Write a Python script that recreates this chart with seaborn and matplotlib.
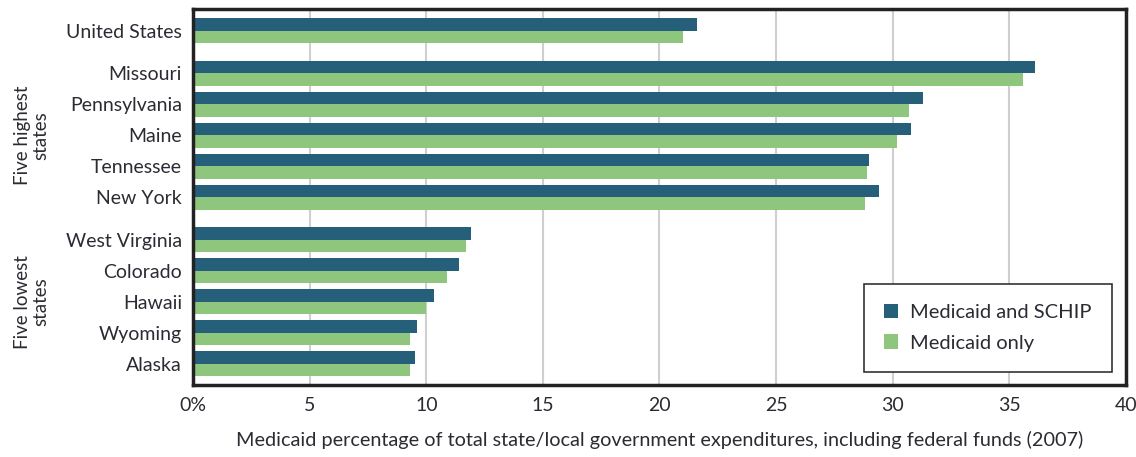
import numpy as np
import pandas as pd
import matplotlib
matplotlib.use("Agg")
import matplotlib.pyplot as plt
import matplotlib.transforms as mtransforms
import seaborn as sns

# Valores (porcentaje del gasto estatal/local, 2007)
us = ["United States"]
highest = ["Missouri", "Pennsylvania", "Maine", "Tennessee", "New York"]
lowest = ["West Virginia", "Colorado", "Hawaii", "Wyoming", "Alaska"]
states = us + highest + lowest

medicaid_schip = [21.6, 36.1, 31.3, 30.8, 29.0, 29.4, 11.9, 11.4, 10.35, 9.6, 9.5]
medicaid_only = [21.0, 35.6, 30.7, 30.2, 28.9, 28.8, 11.7, 10.9, 10.0, 9.3, 9.3]
series = ["Medicaid and SCHIP", "Medicaid only"]

xticks = [0, 5, 10, 15, 20, 25, 30, 35, 40]
xtick_labels = ["0%", "5", "10", "15", "20", "25", "30", "35", "40"]

dark = "#265f7a"
green = "#8fc67e"
text_color = "#2b2b33"

# posiciones de las filas: un hueco extra entre grupos
gap = 0.38
pos = []
y = 0.0
for i, grp in enumerate([us, highest, lowest]):
    if i > 0:
        y += gap
    for _ in grp:
        pos.append(y)
        y += 1

df = pd.DataFrame({
    "state": states * 2,
    "pos": pos * 2,
    "value": medicaid_schip + medicaid_only,
    "serie": [series[0]] * len(states) + [series[1]] * len(states),
})

sns.set_style("white")
plt.rcParams["font.family"] = ["Lato", "DejaVu Sans"]

fig = plt.figure(figsize=(11.36, 4.57), dpi=100)
ax = fig.add_axes([0.170, 0.158, 0.821, 0.822])

sns.barplot(data=df, x="value", y="pos", hue="serie", hue_order=series,
            orient="h", native_scale=True, palette=[dark, green],
            width=0.8, linewidth=0, saturation=1, ax=ax)

ax.set_xlim(0, 40)
ax.set_ylim(pos[-1] + 0.68, -0.69)
ax.set_xticks(xticks, xtick_labels)
ax.set_yticks(pos, states)
ax.grid(axis="x", color="#cfcfcf", lw=1.5)
ax.grid(axis="y", visible=False)
ax.set_axisbelow(True)
ax.tick_params(axis="y", length=0, labelsize=14, labelcolor=text_color, pad=8)
ax.tick_params(axis="x", length=0, labelsize=14, labelcolor=text_color, pad=9)
ax.set_ylabel("")
ax.set_xlabel("Medicaid percentage of total state/local government expenditures, "
              "including federal funds (2007)", fontsize=14.3, color=text_color,
              labelpad=12)
for sp in ax.spines.values():
    sp.set_visible(True)
    sp.set_color("#222222")
    sp.set_linewidth(2.5)

handles, labels = ax.get_legend_handles_labels()
ax.legend(handles, labels, loc="lower right", bbox_to_anchor=(0.985, 0.035),
          frameon=True, fancybox=False, edgecolor="#333333", framealpha=1,
          fontsize=14.5, handlelength=0.7, handleheight=0.7, handletextpad=0.6,
          borderpad=1.0, labelspacing=0.65, borderaxespad=0, labelcolor=text_color)
ax.get_legend().get_frame().set_linewidth(1.2)

# etiquetas de grupo a la izquierda
trans = mtransforms.blended_transform_factory(fig.transFigure, ax.transData)
ax.text(0.028, pos[3], "Five highest\nstates", transform=trans, rotation=90,
        ha="center", va="center", multialignment="center", fontsize=13.5,
        color=text_color, linespacing=1.05)
ax.text(0.028, pos[8], "Five lowest\nstates", transform=trans, rotation=90,
        ha="center", va="center", multialignment="center", fontsize=13.5,
        color=text_color, linespacing=1.05)

fig.savefig("out.png", dpi=100)
